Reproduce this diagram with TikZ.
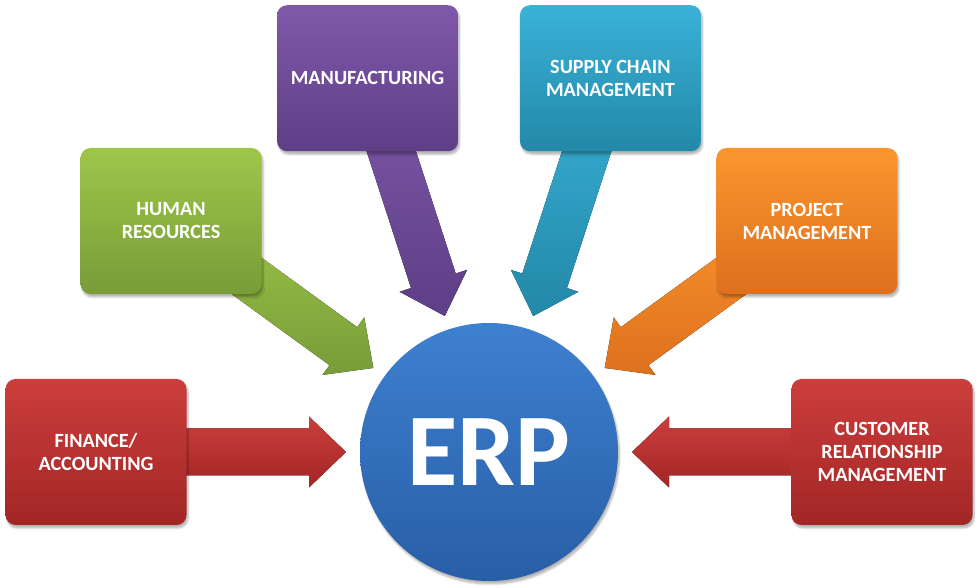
\documentclass[tikz,border=0pt]{standalone}
\usepackage{fontspec}
\setmainfont{Carlito}
\usetikzlibrary{calc,backgrounds,shadows.blur}
\definecolor{redT}{RGB}{204,62,60}
\definecolor{redB}{RGB}{162,38,38}
\definecolor{grnT}{RGB}{158,198,74}
\definecolor{grnB}{RGB}{120,156,56}
\definecolor{purT}{RGB}{128,88,170}
\definecolor{purB}{RGB}{94,62,134}
\definecolor{cyaT}{RGB}{58,178,216}
\definecolor{cyaB}{RGB}{34,136,168}
\definecolor{oraT}{RGB}{250,150,46}
\definecolor{oraB}{RGB}{222,112,30}
\definecolor{bluT}{RGB}{62,128,208}
\definecolor{bluB}{RGB}{40,94,166}
\tikzset{
  modbox/.style={rectangle, rounded corners=10pt, minimum width=181pt, minimum height=146pt,
    inner sep=0pt, align=center, text=white,
    font=\fontsize{20.2}{23}\selectfont\bfseries,
    blur shadow={shadow xshift=1.5pt, shadow yshift=-3pt, shadow opacity=30, shadow blur steps=6}},
  hub/.style={circle, minimum size=258pt, inner sep=0pt, text=white,
    font=\fontsize{103}{103}\selectfont\bfseries,
    top color=bluT, bottom color=bluB,
    blur shadow={shadow xshift=1.5pt, shadow yshift=-3pt, shadow opacity=30, shadow blur steps=6}}
}
\newcommand\erparrow[3]{%
  \coordinate (#1-tip) at ($(erp.center)!143pt!(#1.center)$);
  \coordinate (#1-hb) at ($(erp.center)!180pt!(#1.center)$);
  \fill[top color=#2, bottom color=#3]
    (#1-tip)
    -- ($(#1-hb)!35.5pt!90:(#1.center)$)
    -- ($(#1-hb)!23.5pt!90:(#1.center)$)
    -- ($(#1.center)!23.5pt!-90:(erp.center)$)
    -- ($(#1.center)!23.5pt!90:(erp.center)$)
    -- ($(#1-hb)!23.5pt!-90:(#1.center)$)
    -- ($(#1-hb)!35.5pt!-90:(#1.center)$)
    -- cycle;}
\begin{document}
\begin{tikzpicture}[x=1pt,y=1pt]
\useasboundingbox (0,0) rectangle (980,588);
\node[hub] (erp) at (489,136) {ERP};
\node[modbox, top color=redT, bottom color=redB] (fin) at ([shift={(180:393)}]erp.center) {FINANCE/\\ACCOUNTING};
\node[modbox, top color=grnT, bottom color=grnB] (hr) at ([shift={(144:393)}]erp.center) {HUMAN\\RESOURCES};
\node[modbox, top color=purT, bottom color=purB] (man) at ([shift={(108:393)}]erp.center) {MANUFACTURING};
\node[modbox, top color=cyaT, bottom color=cyaB] (scm) at ([shift={(72:393)}]erp.center) {SUPPLY CHAIN\\MANAGEMENT};
\node[modbox, top color=oraT, bottom color=oraB] (pm) at ([shift={(36:393)}]erp.center) {PROJECT\\MANAGEMENT};
\node[modbox, top color=redT, bottom color=redB] (crm) at ([shift={(0:393)}]erp.center) {CUSTOMER\\RELATIONSHIP\\MANAGEMENT};
\begin{scope}[on background layer]
  \erparrow{fin}{redT}{redB}
  \erparrow{hr}{grnT}{grnB}
  \erparrow{man}{purT}{purB}
  \erparrow{scm}{cyaT}{cyaB}
  \erparrow{pm}{oraT}{oraB}
  \erparrow{crm}{redT}{redB}
\end{scope}
\end{tikzpicture}
\end{document}
